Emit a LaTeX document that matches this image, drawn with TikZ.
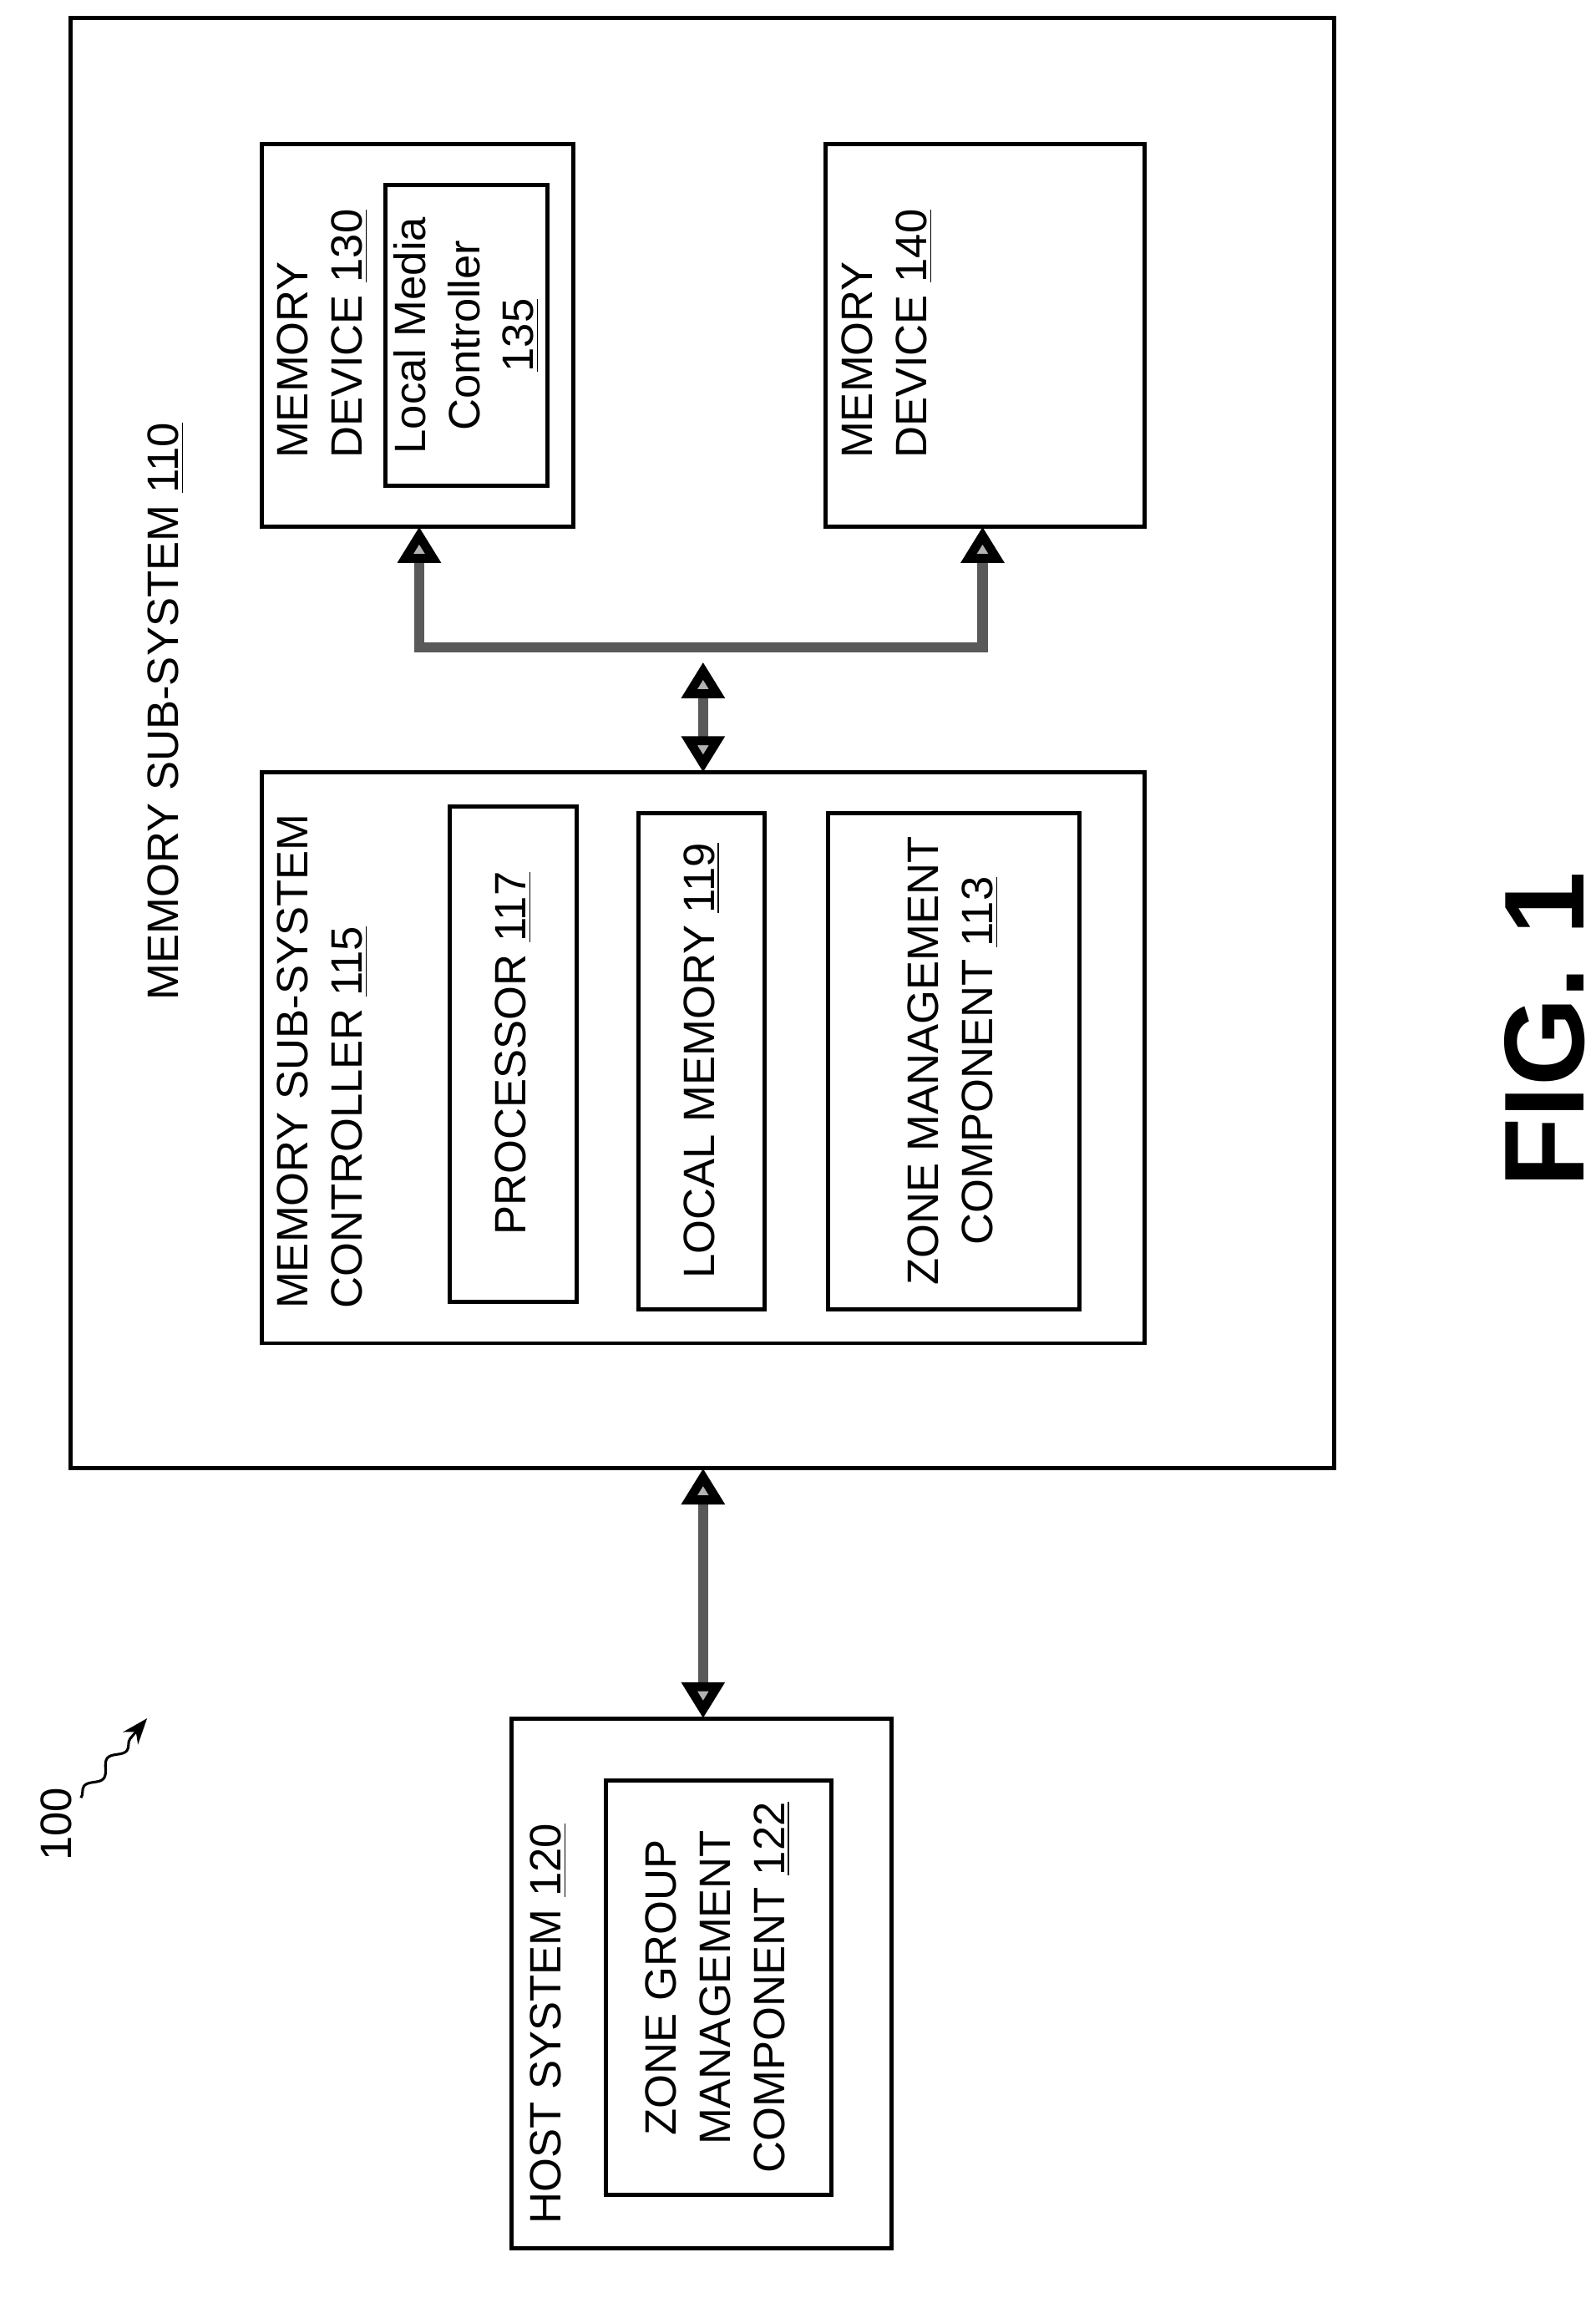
\documentclass[tikz,border=0pt]{standalone}
\usepackage{fontspec}
\setmainfont{Liberation Sans}
\usetikzlibrary{arrows.meta,decorations.pathmorphing}
\begin{document}
\begin{tikzpicture}[x=0.02cm,y=-0.02cm,
  box/.style={draw,line width=1.6pt},
  lbl/.style={rotate=90,font=\fontsize{17}{21}\selectfont,inner sep=0pt},
  bus/.style={line width=4pt,draw=gray!70!black,
    >={Triangle[length=14pt,width=16pt,fill=gray!60,color=black]}}]
\useasboundingbox (0,0) rectangle (1085,1562);
% memory sub-system
\draw [box] (48,12) rectangle (907,998);
\node [lbl,anchor=north west] (mss) at (100,680) {MEMORY SUB-SYSTEM \underline{110}};
% controller
\draw [box] (178,525) rectangle (778,913);
\node [lbl,anchor=north west,align=left] (ctl) at (188,890) {MEMORY SUB-SYSTEM\\CONTROLLER \underline{115}};
\draw [box] (306,548) rectangle (392,885);
\node [lbl] (proc) at (349,716) {PROCESSOR \underline{117}};
\draw [box] (434,553) rectangle (520,890);
\node [lbl] (lmem) at (477,721) {LOCAL MEMORY \underline{119}};
\draw [box] (563,553) rectangle (734,890);
\node [lbl,align=center] (zmc) at (648,721) {ZONE MANAGEMENT\\COMPONENT \underline{113}};
% memory devices
\draw [box] (178,98) rectangle (390,358);
\node [lbl,anchor=north west,align=left] (md130) at (188,312) {MEMORY\\DEVICE \underline{130}};
\draw [box] (262,126) rectangle (372,330);
\node [lbl,align=center] (lmc) at (317,228) {Local Media\\Controller\\\underline{135}};
\draw [box] (561,98) rectangle (778,358);
\node [lbl,anchor=north west,align=left] (md140) at (572,312) {MEMORY\\DEVICE \underline{140}};
% host
\draw [box] (348,1168) rectangle (606,1528);
\node [lbl,anchor=north west] (host) at (360,1512) {HOST SYSTEM \underline{120}};
\draw [box] (412,1210) rectangle (565,1492);
\node [lbl,align=center] (zgm) at (488,1351) {ZONE GROUP\\MANAGEMENT\\COMPONENT \underline{122}};
% connectors
\coordinate (b1) at (285,440);
\coordinate (b2) at (668,440);
\draw [bus,<->] (478,450) -- (478,525);
\draw [bus,->] (478,440) -- (b1) -- (285,358);
\draw [bus,->] (478,440) -- (b2) -- (668,358);
\draw [bus,<->] (478,998) -- (478,1168);
% reference
\node [lbl] (ref) at (38,1240) {100};
\draw [line width=1pt,-{Stealth[length=10pt]},decorate,decoration={snake,amplitude=2pt,segment length=14pt,post length=8pt}] (55,1222) -- (100,1168);
\node [rotate=90,font=\fontsize{44}{50}\selectfont\bfseries] (fig) at (1050,700) {FIG. 1};
\end{tikzpicture}
\end{document}
